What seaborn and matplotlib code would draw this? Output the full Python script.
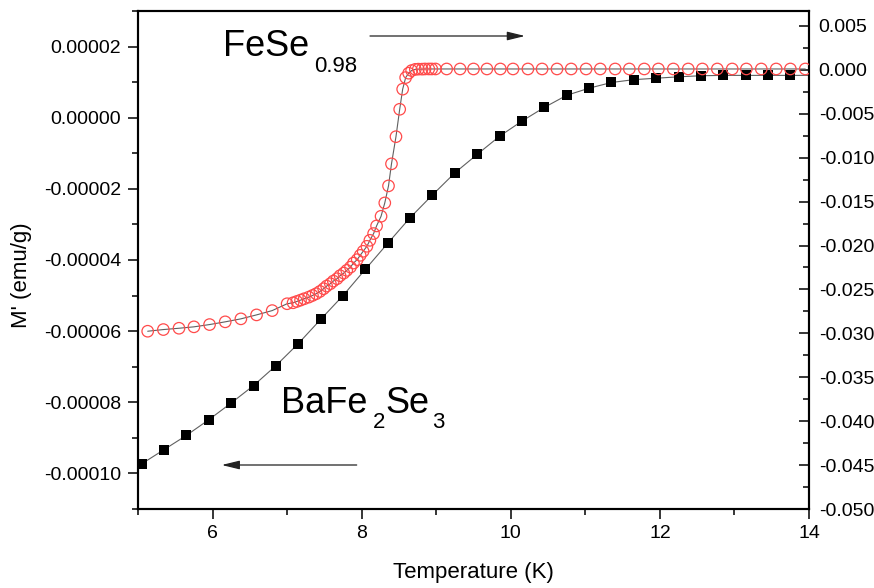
import matplotlib
matplotlib.use("Agg")
import matplotlib.pyplot as plt
import seaborn as sns
import pandas as pd
from matplotlib.ticker import FixedLocator, FixedFormatter

# ---------------- data ----------------
bafe_T = [5.05, 5.35, 5.65, 5.95, 6.25, 6.55, 6.85, 7.15, 7.45, 7.75, 8.05, 8.35,
          8.65, 8.95, 9.25, 9.55, 9.85, 10.15, 10.45, 10.75, 11.05, 11.35, 11.65,
          11.95, 12.25, 12.55, 12.85, 13.15, 13.45, 13.75, 14.05]
bafe_M = [-9.73e-5, -9.33e-5, -8.93e-5, -8.49e-5, -8.02e-5, -7.53e-5, -6.97e-5,
          -6.35e-5, -5.67e-5, -5.00e-5, -4.26e-5, -3.53e-5, -2.81e-5, -2.17e-5,
          -1.55e-5, -1.03e-5, -5.2e-6, -0.95e-6, 2.9e-6, 6.3e-6, 8.3e-6, 9.9e-6,
          10.7e-6, 11.1e-6, 11.5e-6, 11.8e-6, 11.9e-6, 11.9e-6, 11.9e-6, 11.9e-6,
          11.9e-6]

fese_T = [5.13, 5.34, 5.55, 5.75, 5.96, 6.17, 6.38, 6.59, 6.80,
          7.00, 7.08, 7.13, 7.18, 7.23, 7.29, 7.34, 7.39, 7.44, 7.49,
          7.53, 7.58, 7.62, 7.67, 7.71, 7.76, 7.80, 7.85, 7.89, 7.94,
          7.98, 8.02, 8.07, 8.11, 8.16, 8.20, 8.26, 8.31, 8.36, 8.40,
          8.46, 8.51, 8.55, 8.59, 8.63, 8.67, 8.72, 8.76, 8.81, 8.85,
          8.90, 8.94, 8.99,
          9.14, 9.32, 9.50, 9.68, 9.86, 10.03, 10.23, 10.42, 10.62, 10.81,
          11.01, 11.20, 11.40, 11.59, 11.79, 11.98, 12.18, 12.38, 12.57, 12.77,
          12.97, 13.16, 13.36, 13.56, 13.75, 13.95]
fese_M = [-0.02976, -0.02957, -0.02942, -0.02926, -0.02900, -0.02869, -0.02835,
          -0.02790, -0.02741,
          -0.02663, -0.02652, -0.02637, -0.02622, -0.02606, -0.02588, -0.02569,
          -0.02549, -0.02523, -0.02492, -0.02462, -0.02435, -0.02405, -0.02378,
          -0.02344, -0.02314, -0.02283, -0.02246, -0.02200, -0.02161, -0.02112,
          -0.02066, -0.02009, -0.01941, -0.01864, -0.01777, -0.01667, -0.01515,
          -0.01321, -0.01070, -0.00761, -0.00449, -0.00220, -0.00088, -0.00038,
          -0.00008, 0.00006, 0.00008, 0.00008, 0.0001, 0.0001, 0.0001, 0.0001,
          0.0001, 0.0001, 0.0001, 0.0001, 0.0001, 0.0001, 0.0001, 0.0001, 0.0001,
          0.0001, 0.0001, 0.0001, 0.0001, 0.0001, 0.0001, 0.0001, 0.0001, 0.0001,
          0.0001, 0.0001, 0.0001, 0.0001, 0.0001, 0.0001, 0.0001, 0.0001]

x_ticks = [6, 8, 10, 12, 14]
x_ticklabels = ["6", "8", "10", "12", "14"]
x_minor = [5, 7, 9, 11, 13]

left_ticks = [-0.00010, -0.00008, -0.00006, -0.00004, -0.00002, 0.0, 0.00002]
left_ticklabels = ["-0.00010", "-0.00008", "-0.00006", "-0.00004", "-0.00002",
                   "0.00000", "0.00002"]
left_minor = [-0.00011, -0.00009, -0.00007, -0.00005, -0.00003, -0.00001,
              0.00001, 0.00003]

right_ticks = [-0.050, -0.045, -0.040, -0.035, -0.030, -0.025, -0.020, -0.015,
               -0.010, -0.005, 0.000, 0.005]
right_ticklabels = ["-0.050", "-0.045", "-0.040", "-0.035", "-0.030", "-0.025",
                    "-0.020", "-0.015", "-0.010", "-0.005", "0.000", "0.005"]
right_minor = [-0.0475, -0.0425, -0.0375, -0.0325, -0.0275, -0.0225, -0.0175,
               -0.0125, -0.0075, -0.0025, 0.0025]

df_b = pd.DataFrame({"T": bafe_T, "M": bafe_M})
df_f = pd.DataFrame({"T": fese_T, "M": fese_M})

# ---------------- style ----------------
sns.set_style("ticks")
plt.rcParams["font.family"] = ["Liberation Sans", "DejaVu Sans"]
plt.rcParams["axes.unicode_minus"] = False
plt.rcParams["text.color"] = "black"

W, H = 874, 588
fig = plt.figure(figsize=(W / 100, H / 100), dpi=100)
L, R, T, B = 138, 809, 11, 509
ax = fig.add_axes([L / W, 1 - B / H, (R - L) / W, (B - T) / H])
ax2 = ax.twinx()

# BaFe2Se3 (left axis)
sns.lineplot(data=df_b, x="T", y="M", ax=ax, color="#606060", lw=0.8, sort=False)
sns.scatterplot(data=df_b, x="T", y="M", ax=ax, marker="s", s=50,
                color="black", edgecolor="black", linewidth=0, zorder=3)

# FeSe0.98 (right axis)
sns.lineplot(data=df_f, x="T", y="M", ax=ax2, color="#606060", lw=0.8, sort=False)
sns.scatterplot(data=df_f, x="T", y="M", ax=ax2, marker="o", s=68,
                color="#ff4040", linewidth=0.9, zorder=3)
coll = ax2.collections[-1]
coll.set_facecolor("none")
coll.set_edgecolor("#ff4a4a")

ax.set_xlim(5, 14)
ax.set_ylim(-0.00011, 0.00003)
ax2.set_ylim(-0.05, 0.0067)

for a in (ax, ax2):
    for s in a.spines.values():
        s.set_color("black")
        s.set_linewidth(1.5)
    a.set_xlabel("")
    a.set_ylabel("")

ax.xaxis.set_major_locator(FixedLocator(x_ticks))
ax.xaxis.set_major_formatter(FixedFormatter(x_ticklabels))
ax.xaxis.set_minor_locator(FixedLocator(x_minor))
ax.yaxis.set_major_locator(FixedLocator(left_ticks))
ax.yaxis.set_major_formatter(FixedFormatter(left_ticklabels))
ax.yaxis.set_minor_locator(FixedLocator(left_minor))
ax2.yaxis.set_major_locator(FixedLocator(right_ticks))
ax2.yaxis.set_major_formatter(FixedFormatter(right_ticklabels))
ax2.yaxis.set_minor_locator(FixedLocator(right_minor))

ax.tick_params(axis="both", which="major", direction="out", length=7, width=1.1,
               labelsize=14, colors="black", labelcolor="black")
ax.tick_params(axis="both", which="minor", direction="out", length=4, width=1.1,
               colors="black")
ax.tick_params(axis="y", which="major", pad=5)
ax.tick_params(axis="x", which="major", pad=4.5)
ax.tick_params(top=False, right=False, which="both")
ax2.tick_params(axis="y", which="major", direction="in", length=7, width=1.1,
                labelsize=14, pad=7, colors="black", labelcolor="black")
ax2.tick_params(axis="y", which="minor", direction="in", length=4, width=1.1,
                colors="black")

# axis labels
fig.text(473 / W, 1 - 578 / H, "Temperature (K)", fontsize=16, ha="center",
         va="baseline", color="black")
fig.text(21.5 / W, 1 - 275 / H, "M' (emu/g)", fontsize=16, rotation=90,
         ha="center", va="center", color="black")

# sample labels
fig.text(223 / W, 1 - 56 / H, "FeSe", fontsize=26, ha="left", va="baseline",
         color="black")
fig.text(314 / W, 1 - 72.5 / H, "0.98", fontsize=16, ha="left", va="baseline",
         color="black")

fig.text(281.5 / W, 1 - 413.3 / H, "BaFe", fontsize=26, ha="left", va="baseline",
         color="black")
fig.text(372.7 / W, 1 - 428.3 / H, "2", fontsize=16, ha="left", va="baseline",
         color="black")
fig.text(385 / W, 1 - 413.3 / H, "Se", fontsize=26, ha="left", va="baseline",
         color="black")
fig.text(432.3 / W, 1 - 428.3 / H, "3", fontsize=16, ha="left", va="baseline",
         color="black")

# direction arrows
arrow_kw = dict(arrowstyle="-|>,head_length=0.9,head_width=0.22", color="#222222",
                lw=0.9, shrinkA=0, shrinkB=0, mutation_scale=12)
ax.annotate("", xy=(525 / W, 1 - 36 / H), xytext=(370 / W, 1 - 36 / H),
            xycoords="figure fraction", textcoords="figure fraction",
            arrowprops=arrow_kw)
ax.annotate("", xy=(221.7 / W, 1 - 465 / H), xytext=(356.7 / W, 1 - 465 / H),
            xycoords="figure fraction", textcoords="figure fraction",
            arrowprops=arrow_kw)

fig.savefig("out.png", dpi=100)
